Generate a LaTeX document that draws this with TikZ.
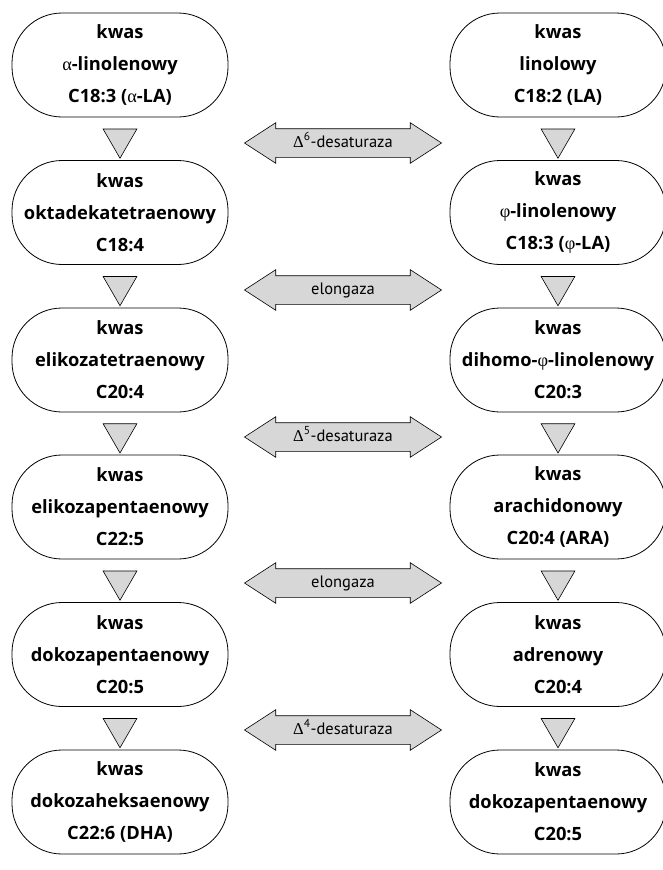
\documentclass[tikz,border=0pt]{standalone}
\usepackage{fontspec}
\setmainfont{PT Sans}
\newfontfamily\acidfont{Open Sans}
\newfontfamily\greekfont{Liberation Serif}
\usetikzlibrary{positioning,calc,shapes.geometric,shapes.arrows}
\definecolor{ArrowGray}{RGB}{215,215,215}
\newcommand{\gr}[1]{{\greekfont\mdseries #1}}

\begin{document}
\begin{tikzpicture}[x=1pt,y=1pt,
    every node/.style={align=center,inner sep=0pt},
    acid/.style={draw,line width=0.8pt,rectangle,rounded corners=50pt,minimum width=216pt,minimum height=104pt,font=\acidfont\fontsize{18.3}{32}\selectfont\bfseries},
    flowtri/.style={draw,line width=0.6pt,fill=ArrowGray,regular polygon,regular polygon sides=3,shape border rotate=180,minimum size=39pt},
    enzyme/.style={draw,line width=0.6pt,fill=ArrowGray,double arrow,double arrow tip angle=66,double arrow head extend=6pt,minimum height=197pt,minimum width=40pt,inner ysep=7pt,text height=11pt,text depth=3pt,font=\fontsize{16.5}{19}\selectfont}]
    \useasboundingbox (0,0) rectangle (662,-870);
    % omega-3 (left)
    \node[acid] (l1) at (120,-65) {kwas\\\gr{α}-linolenowy\\C18:3 (\gr{α}-LA)};
    \node[acid] (l2) at (120,-212.5) {kwas\\oktadekatetraenowy\\C18:4};
    \node[acid] (l3) at (120,-360) {kwas\\elikozatetraenowy\\C20:4};
    \node[acid] (l4) at (120,-507) {kwas\\elikozapentaenowy\\C22:5};
    \node[acid] (l5) at (120,-654.5) {kwas\\dokozapentaenowy\\C20:5};
    \node[acid] (l6) at (120,-802) {kwas\\dokozaheksaenowy\\C22:6 (DHA)};
    % omega-6 (right)
    \node[acid] (r1) at (558,-65) {kwas\\linolowy\\C18:2 (LA)};
    \node[acid] (r2) at (558,-212.5) {kwas\\\gr{φ}-linolenowy\\C18:3 (\gr{φ}-LA)};
    \node[acid] (r3) at (558,-360) {kwas\\dihomo-\gr{φ}-linolenowy\\C20:3};
    \node[acid] (r4) at (558,-507) {kwas\\arachidonowy\\C20:4 (ARA)};
    \node[acid] (r5) at (558,-654.5) {kwas\\adrenowy\\C20:4};
    \node[acid] (r6) at (558,-802) {kwas\\dokozapentaenowy\\C20:5};
    % triangles between steps
    \node[flowtri] (lt1) at ($(l1.south)!0.5!(l2.north)$) {};
    \node[flowtri] (lt2) at ($(l2.south)!0.5!(l3.north)$) {};
    \node[flowtri] (lt3) at ($(l3.south)!0.5!(l4.north)$) {};
    \node[flowtri] (lt4) at ($(l4.south)!0.5!(l5.north)$) {};
    \node[flowtri] (lt5) at ($(l5.south)!0.5!(l6.north)$) {};
    \node[flowtri] (rt1) at ($(r1.south)!0.5!(r2.north)$) {};
    \node[flowtri] (rt2) at ($(r2.south)!0.5!(r3.north)$) {};
    \node[flowtri] (rt3) at ($(r3.south)!0.5!(r4.north)$) {};
    \node[flowtri] (rt4) at ($(r4.south)!0.5!(r5.north)$) {};
    \node[flowtri] (rt5) at ($(r5.south)!0.5!(r6.north)$) {};
    % enzymes
    \node[enzyme] (e1) at (343,-143) {\gr{Δ}\textsuperscript{6}-desaturaza};
    \node[enzyme] (e2) at (343,-290) {elongaza};
    \node[enzyme] (e3) at (343,-437) {\gr{Δ}\textsuperscript{5}-desaturaza};
    \node[enzyme] (e4) at (343,-583) {elongaza};
    \node[enzyme] (e5) at (343,-730) {\gr{Δ}\textsuperscript{4}-desaturaza};
\end{tikzpicture}
\end{document}
